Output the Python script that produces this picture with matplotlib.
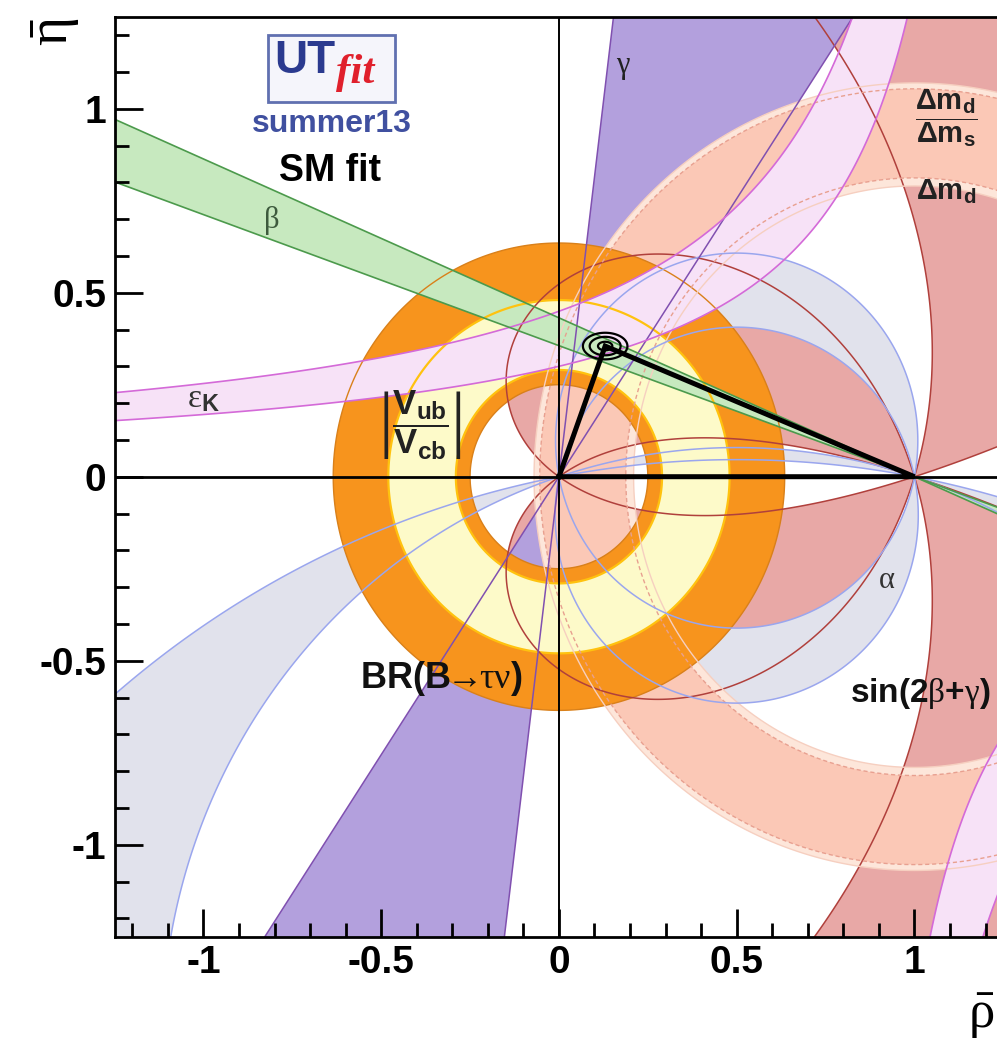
import numpy as np
import matplotlib
matplotlib.use("Agg")
import matplotlib.pyplot as plt
from matplotlib.ticker import MultipleLocator, FixedLocator
from matplotlib.patches import Rectangle

# ---------------- data ----------------
rho_lim = [-1.25, 1.25]
eta_lim = [-1.25, 1.25]
x_major_ticks = [-1.0, -0.5, 0.0, 0.5, 1.0]
x_tick_labels = ["-1", "-0.5", "0", "0.5", "1"]
y_major_ticks = [-1.0, -0.5, 0.0, 0.5, 1.0]
y_tick_labels = ["-1", "-0.5", "0", "0.5", "1"]

beta_band_deg = [19.6, 23.35]                   # angle at (1,0)
gamma_band_deg = [56.5, 83.0]                   # angle at (0,0)
alpha_band_deg = [[78.9, 101.8], [162.0, 169.4]]  # angle at apex (two solutions)
sin2bg_min = 0.57                               # |sin(2beta+gamma)| lower bound
vub_vcb_radius = [0.29, 0.48]
btaunu_radius = [0.25, 0.635]
dmd_radius = [0.79, 1.07]
dms_dmd_radius = [0.812, 1.054]
epsk_upper_shift = 0.29
epsk_upper_level = [0.387, 0.58]
epsk_lower_shift = -0.22
epsk_lower_level = [0.33, 0.516]
apex_rho_eta = [0.13, 0.355]
fit_sigma = [0.026, 0.015]
fit_levels = [0.6, 2.8, 5.8]

# ---------------- styling ----------------
plt.rcParams['mathtext.fontset'] = 'custom'
plt.rcParams['mathtext.rm'] = 'Liberation Serif'
plt.rcParams['mathtext.it'] = 'Liberation Serif:italic'
plt.rcParams['mathtext.bf'] = 'Liberation Sans:bold'
plt.rcParams['mathtext.sf'] = 'Liberation Sans'

C_ROSE, C_DARKRED = '#e8a8a6', '#b0403c'
C_GRAY, C_BLUE = '#e1e2ec', '#9aa6ee'
C_PURPLE, C_PURPLE_E = '#b3a0dd', '#8050b0'
C_PALE, C_SALMON, C_SALMON_E = '#fde6da', '#fbc8b6', '#e8a090'
C_ORANGE, C_ORANGE_E = '#f7941d', '#d9801a'
C_YELLOW, C_YELLOW_E = '#fdfac9', '#ffc20f'
C_PINK, C_PINK_E = '#f7e2f7', '#d46ad8'
C_GREEN, C_GREEN_E = '#c7e9bf', '#4c9a4c'

fig = plt.figure(figsize=(9.97, 10.48), dpi=100)
ax = fig.add_axes([114.6 / 997, (1048 - 936.7) / 1048, 888.7 / 997, 920.0 / 1048])
ax.set_xlim(rho_lim)
ax.set_ylim(eta_lim)

N = 1601
g = np.linspace(-1.32, 1.32, N)
RHO, ETA = np.meshgrid(g, g)


def band(F, lo, hi, color, z):
    ax.contourf(RHO, ETA, F, levels=[lo, hi], colors=[color], zorder=z, antialiased=True)


def edge(F, levels, color, lw=1.1, ls='solid', z=10):
    ax.contour(RHO, ETA, F, levels=levels, colors=[color], linewidths=lw,
               linestyles=[ls] * len(levels), zorder=z)


# sin(2beta+gamma)
Z = RHO + 1j * ETA
W = (1 - np.conj(Z)) ** 2 * Z
S = np.abs(W.imag / np.maximum(np.abs(W), 1e-12))
band(S, sin2bg_min, 1.01, C_ROSE, 1)
edge(S, [sin2bg_min], C_DARKRED, 1.1, z=10)

# alpha
for a1, a2 in alpha_band_deg:
    c1 = 0.5 / np.tan(np.radians(a1))
    c2 = 0.5 / np.tan(np.radians(a2))
    P1 = RHO ** 2 - RHO + ETA ** 2 - 2 * c1 * ETA
    P2 = RHO ** 2 - RHO + ETA ** 2 - 2 * c2 * ETA
    F = P1 * P2
    band(F, F.min() - 1, 0, C_GRAY, 2)
    edge(P1, [0], C_BLUE, 1.1, z=10.5)
    edge(P2, [0], C_BLUE, 1.1, z=10.5)

# gamma
g1, g2 = np.radians(gamma_band_deg)
L1 = ETA * np.cos(g1) - RHO * np.sin(g1)
L2 = ETA * np.cos(g2) - RHO * np.sin(g2)
F = L1 * L2
band(F, F.min() - 1, 0, C_PURPLE, 3)
edge(L1, [0], C_PURPLE_E, 1.1, z=11)
edge(L2, [0], C_PURPLE_E, 1.1, z=11)

# Delta m_d and Delta m_d / Delta m_s
D1 = np.hypot(RHO - 1, ETA)
band(D1, dmd_radius[0], dmd_radius[1], C_PALE, 4)
band(D1, dms_dmd_radius[0], dms_dmd_radius[1], C_SALMON, 5)
edge(D1, dmd_radius, '#f6cfc0', 1.0, z=10)
edge(D1, dms_dmd_radius, C_SALMON_E, 1.0, ls=(0, (3, 2)), z=10)

# BR(B->tau nu) and |Vub/Vcb|
D0 = np.hypot(RHO, ETA)
band(D0, btaunu_radius[0], btaunu_radius[1], C_ORANGE, 6)
band(D0, vub_vcb_radius[0], vub_vcb_radius[1], C_YELLOW, 7)
edge(D0, btaunu_radius, C_ORANGE_E, 1.0, z=9.5)
edge(D0, vub_vcb_radius, C_YELLOW_E, 1.6, z=9.6)

# epsilon_K
FU = np.where(ETA > 0, ETA * (1 - RHO + epsk_upper_shift), np.nan)
band(FU, epsk_upper_level[0], epsk_upper_level[1], C_PINK, 8)
edge(FU, epsk_upper_level, C_PINK_E, 1.2, z=11.5)
FL = np.where(ETA < 0, ETA * (1 - RHO + epsk_lower_shift), np.nan)
band(FL, epsk_lower_level[0], epsk_lower_level[1], C_PINK, 8)
edge(FL, epsk_lower_level, C_PINK_E, 1.2, z=11.5)

# beta
tb1, tb2 = np.tan(np.radians(beta_band_deg))
M1 = ETA - tb1 * (1 - RHO)
M2 = ETA - tb2 * (1 - RHO)
F = M1 * M2
band(F, F.min() - 1, 0, C_GREEN, 9)
edge(M1, [0], C_GREEN_E, 1.2, z=12)
edge(M2, [0], C_GREEN_E, 1.2, z=12)

# axes lines
ax.axhline(0, color='black', lw=2.0, zorder=13)
ax.axvline(0, color='black', lw=1.4, zorder=13)

# triangle
ax.plot([0, apex_rho_eta[0], 1, 0], [0, apex_rho_eta[1], 0, 0], color='black', lw=3.6,
        solid_joinstyle='miter', zorder=14)

# fit contours
lr = np.linspace(apex_rho_eta[0] - 0.1, apex_rho_eta[0] + 0.1, 400)
le = np.linspace(apex_rho_eta[1] - 0.06, apex_rho_eta[1] + 0.06, 300)
LR, LE = np.meshgrid(lr, le)
Q = ((LR - apex_rho_eta[0]) / fit_sigma[0]) ** 2 + ((LE - apex_rho_eta[1]) / fit_sigma[1]) ** 2
ax.contour(LR, LE, Q, levels=fit_levels, colors='black', linewidths=1.6, zorder=15)

# ticks / spines
ax.xaxis.set_major_locator(FixedLocator(x_major_ticks))
ax.yaxis.set_major_locator(FixedLocator(y_major_ticks))
ax.set_xticklabels(x_tick_labels)
ax.set_yticklabels(y_tick_labels)
ax.xaxis.set_minor_locator(MultipleLocator(0.1))
ax.yaxis.set_minor_locator(MultipleLocator(0.1))
ax.tick_params(which='both', direction='in', top=False, right=False, width=2.0, pad=6,
               labelsize=28)
ax.tick_params(which='major', length=20)
ax.tick_params(which='minor', length=10)
for lab in ax.get_xticklabels() + ax.get_yticklabels():
    lab.set_fontfamily('Liberation Sans')
    lab.set_fontweight('bold')
for sp in ax.spines.values():
    sp.set_linewidth(2.0)
    sp.set_zorder(30)
ax.xaxis.set_zorder(30)
ax.yaxis.set_zorder(30)

# axis titles
fig.text(55 / 997, 1 - 32 / 1048, r'$\bar{\mathrm{\eta}}$', fontsize=40, rotation=90,
         ha='center', va='center')
fig.text(968 / 997, 1 - 1015 / 1048, r'$\bar{\mathrm{\rho}}$', fontsize=38,
         ha='left', va='center')

# logo
ax.add_patch(Rectangle((-0.819, 1.018), 0.358, 0.182, facecolor='#f5f5fb', edgecolor='#6070b0',
                       lw=2.0, zorder=20))
ax.text(-0.80, 1.096, 'UT', fontsize=33, color='#2b3a8f', fontfamily='Liberation Sans',
        fontweight='bold', ha='left', va='baseline', zorder=21)
ax.text(-0.628, 1.07, 'fit', fontsize=31, color='#e0202c', fontfamily='Liberation Serif',
        fontweight='bold', fontstyle='italic', ha='left', va='baseline', zorder=21)
ax.text(-0.639, 0.958, 'summer13', fontsize=23, color='#4050a0', fontfamily='Liberation Sans',
        fontweight='bold', ha='center', va='center', zorder=21)
ax.text(-0.644, 0.83, 'SM fit', fontsize=27, color='black', fontfamily='Liberation Sans',
        fontweight='bold', ha='center', va='center', zorder=21)

# constraint labels
greek = dict(fontfamily='Liberation Serif', ha='center', va='center', zorder=21)
ax.text(-0.807, 0.697, 'β', fontsize=22, color='#3d5a3d', **greek)
ax.text(0.18, 1.118, 'γ', fontsize=22, color='#222222', **greek)
ax.text(0.923, -0.281, 'α', fontsize=22, color='#333333', **greek)
ax.text(-1.0, 0.215, r'$\mathrm{\varepsilon}_{\mathbf{K}}$', fontsize=24, color='#333333',
        ha='center', va='center', zorder=21)
ax.text(-0.391, 0.14, r'$\left|\dfrac{\mathbf{V}_{\mathbf{ub}}}{\mathbf{V}_{\mathbf{cb}}}\right|$',
        fontsize=25, color='#222222', ha='center', va='center', zorder=21)
ax.text(-0.332, -0.548, r'$\mathbf{BR(B}\!\!\mathrm{\rightarrow}\!\!\mathrm{\tau\nu}\mathbf{)}$',
        fontsize=26, color='#111111', ha='center', va='center', zorder=21)
ax.text(1.015, -0.588, r'$\mathbf{sin(2}\mathrm{\beta}\mathbf{+}\mathrm{\gamma}\mathbf{)}$',
        fontsize=24, color='#111111', ha='center', va='center', zorder=21)
ax.text(1.09, 0.974, r'$\dfrac{\mathbf{\Delta m}_{\mathbf{d}}}{\mathbf{\Delta m}_{\mathbf{s}}}$',
        fontsize=21, color='#222222', ha='center', va='center', zorder=21)
ax.text(1.09, 0.773, r'$\mathbf{\Delta m}_{\mathbf{d}}$', fontsize=21, color='#222222',
        ha='center', va='center', zorder=21)

fig.savefig('out.png', dpi=100)
